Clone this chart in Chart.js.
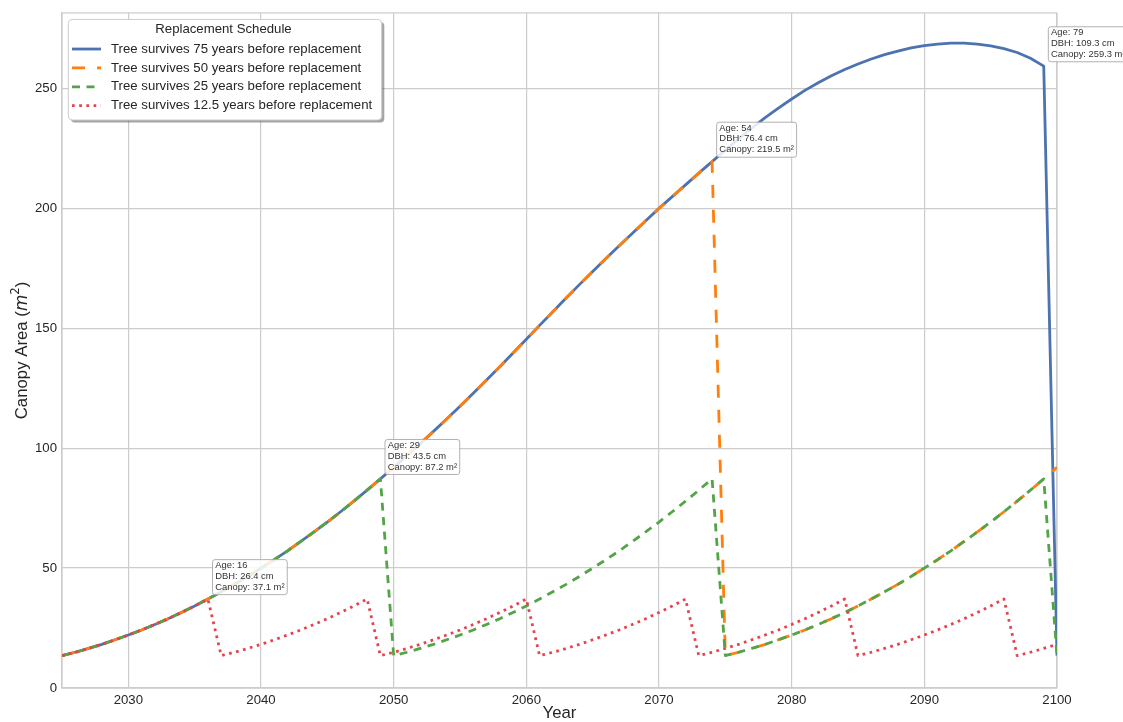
<!DOCTYPE html>
<html>
<head>
<meta charset="utf-8">
<title>Canopy Area under Replacement Schedules</title>
<script src="https://cdn.jsdelivr.net/npm/chart.js@4.4.1/dist/chart.umd.min.js"></script>
<style>
  html, body { margin: 0; padding: 0; background: #ffffff; }
  canvas { display: block; }
</style>
</head>
<body>
<canvas id="chart" width="1123" height="722"></canvas>
<script>
// Simulation years (one point per year)
const years = [
  2025,2026,2027,2028,2029,2030,2031,2032,2033,2034,2035,2036,2037,2038,2039,2040,
  2041,2042,2043,2044,2045,2046,2047,2048,2049,2050,2051,2052,2053,2054,2055,2056,
  2057,2058,2059,2060,2061,2062,2063,2064,2065,2066,2067,2068,2069,2070,2071,2072,
  2073,2074,2075,2076,2077,2078,2079,2080,2081,2082,2083,2084,2085,2086,2087,2088,
  2089,2090,2091,2092,2093,2094,2095,2096,2097,2098,2099,2100
];

// Canopy area (m²) per year for each replacement schedule
const survive75 = [
  13.5,14.9,16.5,18.2,20.1,22.1,24.2,26.5,28.9,31.5,34.2,37.1,
  40.1,43.2,46.5,50.0,53.5,57.2,61.1,65.1,69.2,73.5,77.9,82.5,87.2,
  92.0,96.9,101.9,107.0,112.2,117.5,122.9,128.4,134.0,139.7,145.4,151.2,156.9,
  162.6,168.2,173.7,179.1,184.4,189.6,194.8,200.0,204.9,209.8,214.7,219.5,
  224.3,229.0,233.5,237.8,241.8,245.6,249.2,252.4,255.3,257.9,260.2,262.3,264.1,
  265.6,266.9,267.9,268.5,268.9,268.9,268.5,267.8,266.6,265.0,262.6,259.3,
  13.5
];
const survive50 = [
  13.5,14.9,16.5,18.2,20.1,22.1,24.2,26.5,28.9,31.5,34.2,37.1,
  40.1,43.2,46.5,50.0,53.5,57.2,61.1,65.1,69.2,73.5,77.9,82.5,87.2,
  92.0,96.9,101.9,107.0,112.2,117.5,122.9,128.4,134.0,139.7,145.4,151.2,156.9,
  162.6,168.2,173.7,179.1,184.4,189.6,194.8,200.0,204.9,209.8,214.7,219.5,
  13.5,14.9,16.5,18.2,20.1,22.1,24.2,26.5,28.9,31.5,34.2,37.1,
  40.1,43.2,46.5,50.0,53.5,57.2,61.1,65.1,69.2,73.5,77.9,82.5,87.2,92.0
];
const survive25 = [
  13.5,14.9,16.5,18.2,20.1,22.1,24.2,26.5,28.9,31.5,34.2,37.1,
  40.1,43.2,46.5,50.0,53.5,57.2,61.1,65.1,69.2,73.5,77.9,82.5,87.2,
  13.5,14.9,16.5,18.2,20.1,22.1,24.2,26.5,28.9,31.5,34.2,37.1,
  40.1,43.2,46.5,50.0,53.5,57.2,61.1,65.1,69.2,73.5,77.9,82.5,87.2,
  13.5,14.9,16.5,18.2,20.1,22.1,24.2,26.5,28.9,31.5,34.2,37.1,
  40.1,43.2,46.5,50.0,53.5,57.2,61.1,65.1,69.2,73.5,77.9,82.5,87.2,
  13.5
];
const survive12 = [
  13.5,14.9,16.5,18.2,20.1,22.1,24.2,26.5,28.9,31.5,34.2,37.1,
  13.5,14.9,16.5,18.2,20.1,22.1,24.2,26.5,28.9,31.5,34.2,37.1,
  13.5,14.9,16.5,18.2,20.1,22.1,24.2,26.5,28.9,31.5,34.2,37.1,
  13.5,14.9,16.5,18.2,20.1,22.1,24.2,26.5,28.9,31.5,34.2,37.1,
  13.5,14.9,16.5,18.2,20.1,22.1,24.2,26.5,28.9,31.5,34.2,37.1,
  13.5,14.9,16.5,18.2,20.1,22.1,24.2,26.5,28.9,31.5,34.2,37.1,
  13.5,14.9,16.5,18.2
];

const seriesLabels = [
  'Tree survives 75 years before replacement',
  'Tree survives 50 years before replacement',
  'Tree survives 25 years before replacement',
  'Tree survives 12.5 years before replacement'
];
const seriesValues = [survive75, survive50, survive25, survive12];

// Axis ticks
const xTicks = [2030, 2040, 2050, 2060, 2070, 2080, 2090, 2100];
const yTicks = [0, 50, 100, 150, 200, 250];

// Tree state callouts (year, age, DBH, canopy)
const markYears  = [2036, 2049, 2074, 2099];
const markAges   = [16, 29, 54, 79];
const markDbh    = [26.4, 43.5, 76.4, 109.3];
const markCanopy = [37.1, 87.2, 219.5, 259.3];

const FONT = '"Liberation Sans", Arial, Helvetica, sans-serif';
const INK = '#262626';
const GRID = '#cccccc';
const lineColors = ['#4C72B0', '#FF7F0E', '#52A447', '#E5434B'];
const lineDashes = [[], [13, 12], [8, 6.5], [2.7, 4.5]];
const LINE_W = 2.8;

function roundRect(ctx, x, y, w, h, r) {
  ctx.beginPath();
  ctx.moveTo(x + r, y);
  ctx.lineTo(x + w - r, y);
  ctx.arcTo(x + w, y, x + w, y + r, r);
  ctx.lineTo(x + w, y + h - r);
  ctx.arcTo(x + w, y + h, x + w - r, y + h, r);
  ctx.lineTo(x + r, y + h);
  ctx.arcTo(x, y + h, x, y + h - r, r);
  ctx.lineTo(x, y + r);
  ctx.arcTo(x, y, x + r, y, r);
  ctx.closePath();
}

// Full frame around the plotting area
const framePlugin = {
  id: 'frame',
  beforeDatasetsDraw(chart) {
    const { ctx, chartArea: a } = chart;
    ctx.save();
    ctx.strokeStyle = GRID;
    ctx.lineWidth = 1.2;
    ctx.strokeRect(a.left, a.top, a.right - a.left, a.bottom - a.top);
    ctx.restore();
  }
};

// Callout boxes next to the tree state points
const calloutPlugin = {
  id: 'callouts',
  afterDatasetsDraw(chart) {
    const { ctx, scales } = chart;
    ctx.save();
    ctx.font = '9.4px ' + FONT;
    ctx.textBaseline = 'middle';
    markYears.forEach((yr, i) => {
      const px = scales.x.getPixelForValue(yr);
      const py = scales.y.getPixelForValue(markCanopy[i]);
      const lines = [
        'Age: ' + markAges[i],
        'DBH: ' + markDbh[i].toFixed(1) + ' cm',
        'Canopy: ' + markCanopy[i].toFixed(1) + ' m²'
      ];
      const pad = 2.7;
      const w = Math.max(...lines.map(t => ctx.measureText(t).width)) + pad * 2;
      const h = 35;
      const left = px + 4.6;
      const top = py - 4.4 - h;
      roundRect(ctx, left, top, w, h, 2.5);
      ctx.fillStyle = 'rgba(255,255,255,0.85)';
      ctx.fill();
      ctx.strokeStyle = '#a8a8a8';
      ctx.lineWidth = 0.9;
      ctx.stroke();
      ctx.fillStyle = '#333333';
      lines.forEach((t, j) => ctx.fillText(t, left + pad, top + 5.9 + j * 10.8));
    });
    ctx.restore();
  }
};

// Legend box in the upper left of the plot, with drop shadow
const legendPlugin = {
  id: 'boxLegend',
  afterDraw(chart) {
    const { ctx, chartArea: a } = chart;
    const x = a.left + 6.3, y = a.top + 6.5, w = 313.4, h = 100.6;
    ctx.save();
    roundRect(ctx, x + 2.6, y + 2.6, w, h, 4);
    ctx.fillStyle = 'rgba(90,90,90,0.55)';
    ctx.fill();
    roundRect(ctx, x, y, w, h, 4);
    ctx.fillStyle = '#ffffff';
    ctx.fill();
    ctx.strokeStyle = GRID;
    ctx.lineWidth = 1;
    ctx.stroke();

    ctx.fillStyle = INK;
    ctx.font = '13.2px ' + FONT;
    ctx.textBaseline = 'middle';
    ctx.textAlign = 'center';
    ctx.fillText('Replacement Schedule', x + w / 2 - 1.5, y + 10.2);
    ctx.textAlign = 'left';
    seriesLabels.forEach((label, i) => {
      const cy = y + 29.6 + i * 18.9;
      ctx.save();
      ctx.strokeStyle = lineColors[i];
      ctx.lineWidth = LINE_W;
      ctx.lineCap = 'butt';
      ctx.setLineDash(lineDashes[i]);
      ctx.beginPath();
      ctx.moveTo(x + 3.7, cy);
      ctx.lineTo(x + 32.7, cy);
      ctx.stroke();
      ctx.restore();
      ctx.fillStyle = INK;
      ctx.fillText(label, x + 42.7, cy);
    });
    ctx.restore();
  }
};

// Axis titles (y title carries an italic m with superscript 2)
const axisTitlePlugin = {
  id: 'axisTitles',
  afterDraw(chart) {
    const { ctx, chartArea: a } = chart;
    ctx.save();
    ctx.fillStyle = INK;
    ctx.font = '16.8px ' + FONT;
    ctx.textAlign = 'center';
    ctx.textBaseline = 'middle';
    ctx.fillText('Year', (a.left + a.right) / 2, 713.5);

    const parts = [
      { t: 'Canopy Area (', f: '16.8px ' + FONT, dy: 0 },
      { t: 'm', f: 'italic 16.8px "DejaVu Sans"', dy: 0 },
      { t: '2', f: '11.8px "DejaVu Sans"', dy: -7.2 },
      { t: ')', f: '16.8px ' + FONT, dy: 0 }
    ];
    let total = 0;
    parts.forEach(p => { ctx.font = p.f; p.w = ctx.measureText(p.t).width; total += p.w; });
    ctx.translate(20.5, (a.top + a.bottom) / 2);
    ctx.rotate(-Math.PI / 2);
    ctx.textAlign = 'left';
    ctx.textBaseline = 'alphabetic';
    let cx = -total / 2;
    parts.forEach(p => {
      ctx.font = p.f;
      ctx.fillText(p.t, cx, 6 + p.dy);
      cx += p.w;
    });
    ctx.restore();
  }
};

const datasets = seriesValues.map((vals, i) => ({
  label: seriesLabels[i],
  data: years.map((yr, k) => ({ x: yr, y: vals[k] })),
  borderColor: lineColors[i],
  backgroundColor: lineColors[i],
  borderWidth: LINE_W,
  borderDash: lineDashes[i],
  borderCapStyle: 'butt',
  borderJoinStyle: 'round',
  pointRadius: 0,
  pointHoverRadius: 0,
  tension: 0,
  fill: false,
  order: 4 - i
}));

new Chart(document.getElementById('chart'), {
  type: 'line',
  data: { datasets },
  options: {
    responsive: false,
    animation: false,
    devicePixelRatio: 1,
    layout: { padding: { left: 0, right: 66, top: 10, bottom: 0 } },
    plugins: { legend: { display: false }, tooltip: { enabled: false }, title: { display: false } },
    scales: {
      x: {
        type: 'linear',
        min: 2025,
        max: 2100,
        afterBuildTicks: s => { s.ticks = xTicks.map(v => ({ value: v })); },
        afterFit: s => { s.height = 34; },
        grid: { color: GRID, lineWidth: 1.2, drawTicks: false },
        border: { display: true, color: GRID, width: 1.2 },
        ticks: {
          font: { family: FONT, size: 13.2 },
          color: INK,
          padding: 4,
          maxRotation: 0,
          autoSkip: false,
          callback: v => String(v)
        }
      },
      y: {
        type: 'linear',
        min: 0,
        max: 281.5,
        afterBuildTicks: s => { s.ticks = yTicks.map(v => ({ value: v })); },
        afterFit: s => { s.width = 62; },
        grid: { color: GRID, lineWidth: 1.2, drawTicks: false },
        border: { display: true, color: GRID, width: 1.2 },
        ticks: {
          font: { family: FONT, size: 13.2 },
          color: INK,
          padding: 5,
          autoSkip: false,
          callback: v => String(v)
        }
      }
    }
  },
  plugins: [framePlugin, calloutPlugin, legendPlugin, axisTitlePlugin]
});
</script>
</body>
</html>
